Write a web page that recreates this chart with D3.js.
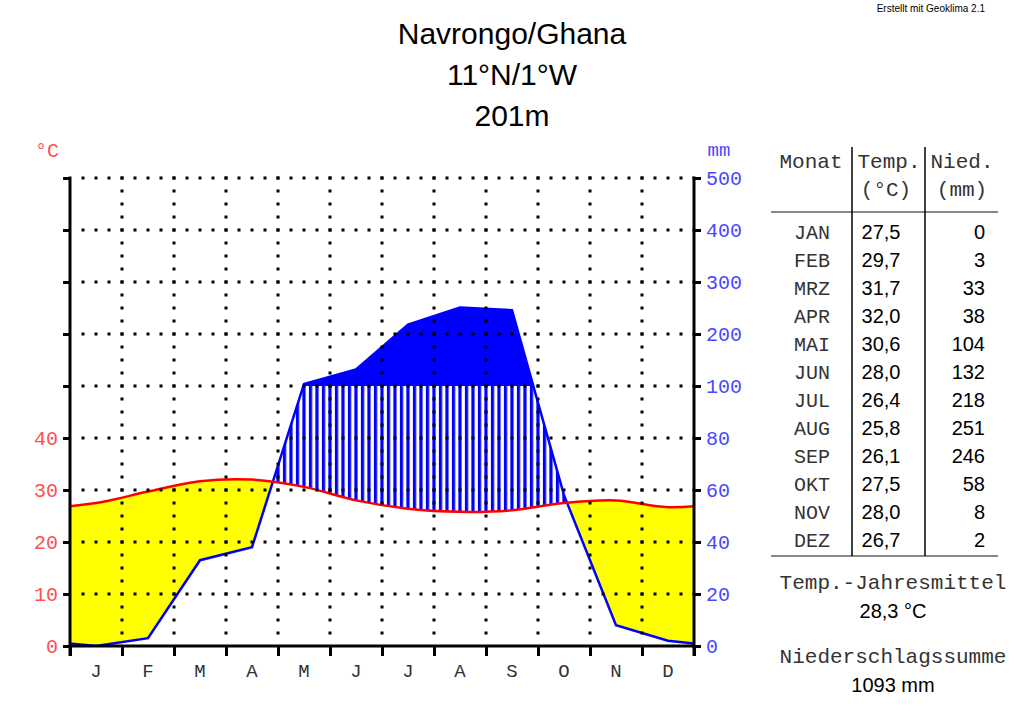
<!DOCTYPE html>
<html>
<head>
<meta charset="utf-8">
<script src="https://cdn.jsdelivr.net/npm/d3@7"></script>
<style>
    body { margin: 0; background: #fff; }
</style>
</head>
<body>
<div id="chart"></div>
<script>
// climate diagram (Walter-Lieth style) for Navrongo

const monthLetters = ['J', 'F', 'M', 'A', 'M', 'J', 'J', 'A', 'S', 'O', 'N', 'D'];
const monthNames = ['JAN', 'FEB', 'MRZ', 'APR', 'MAI', 'JUN', 'JUL', 'AUG', 'SEP', 'OKT', 'NOV', 'DEZ'];
const temps = [27.5, 29.7, 31.7, 32.0, 30.6, 28.0, 26.4, 25.8, 26.1, 27.5, 28.0, 26.7];
const precip = [0, 3, 33, 38, 104, 132, 218, 251, 246, 58, 8, 2];
const tempTicks = [0, 10, 20, 30, 40, 50, 60, 70, 80, 90];
const tempLabelMax = 40;
const precipTicks = [0, 20, 40, 60, 80, 100, 200, 300, 400, 500];
const titleLines = ['Navrongo/Ghana', '11°N/1°W', '201m'];

const width = 1024;
const height = 710;
const plot = { left: 70, right: 694, top: 178, bottom: 646 };

const mono = "'Liberation Mono', 'DejaVu Sans Mono', monospace";
const sans = "'Liberation Sans', Arial, sans-serif";
const RED = '#ff0000', BLUE = '#0000ff', YELLOW = '#ffff00';

let svg = d3.select('#chart')
    .append('svg')
    .attr('width', width)
    .attr('height', height)
    .style('background', '#fff');

// scales
let x = d3.scaleLinear().domain([0, 12]).range([plot.left, plot.right]);
let yT = d3.scaleLinear().domain([0, 90]).range([plot.bottom, plot.top]);
let yP = d3.scaleLinear().domain([0, 100, 500]).range([plot.bottom, yT(50), plot.top]);

// wrap the year around so lines run to the plot edges
let pts = d3.range(-2, 14).map(i => {
    let m = (i + 12) % 12;
    return { x: x(i + 0.5), t: temps[m], p: precip[m] };
});

let defs = svg.append('defs');

defs.append('clipPath').attr('id', 'plotClip')
    .append('rect')
    .attr('x', plot.left).attr('y', plot.top)
    .attr('width', plot.right - plot.left).attr('height', plot.bottom - plot.top);

defs.append('clipPath').attr('id', 'abovePrecip')
    .append('path')
    .attr('d', d3.area().x(d => d.x).y0(plot.top - 10).y1(d => yP(d.p))(pts));

defs.append('clipPath').attr('id', 'aboveTemp')
    .append('path')
    .attr('d', d3.area().x(d => d.x).y0(plot.top - 10).y1(d => yT(d.t)).curve(d3.curveCatmullRom)(pts));

defs.append('clipPath').attr('id', 'below100')
    .append('rect')
    .attr('x', plot.left).attr('y', yP(100))
    .attr('width', plot.right - plot.left).attr('height', plot.bottom - yP(100));

defs.append('clipPath').attr('id', 'above100')
    .append('rect')
    .attr('x', plot.left).attr('y', plot.top - 10)
    .attr('width', plot.right - plot.left).attr('height', yP(100) - plot.top + 10);

// vertical hatch for humid months
let step = (x(1) - x(0)) / 8;
let pattern = defs.append('pattern')
    .attr('id', 'hatch')
    .attr('patternUnits', 'userSpaceOnUse')
    .attr('x', plot.left - step / 4)
    .attr('y', 0)
    .attr('width', step)
    .attr('height', 10);
pattern.append('rect')
    .attr('x', 0).attr('y', 0)
    .attr('width', step / 2).attr('height', 10)
    .attr('fill', BLUE);

let plotG = svg.append('g').attr('clip-path', 'url(#plotClip)');

// arid season: temperature above precipitation
plotG.append('g')
    .attr('clip-path', 'url(#abovePrecip)')
    .append('path')
    .attr('d', d3.area().x(d => d.x).y0(plot.bottom).y1(d => yT(d.t)).curve(d3.curveCatmullRom)(pts))
    .attr('fill', YELLOW);

// humid season: hatched up to 100 mm
plotG.append('g')
    .attr('clip-path', 'url(#aboveTemp)')
    .append('g')
    .attr('clip-path', 'url(#below100)')
    .append('path')
    .attr('d', d3.area().x(d => d.x).y0(plot.bottom).y1(d => yP(d.p))(pts))
    .attr('fill', 'url(#hatch)');

// perhumid: solid above 100 mm
plotG.append('g')
    .attr('clip-path', 'url(#above100)')
    .append('path')
    .attr('d', d3.area().x(d => d.x).y0(plot.bottom).y1(d => yP(d.p))(pts))
    .attr('fill', BLUE);

// dotted grid
let dot = (x(1) - x(0)) / 4;
svg.append('g')
    .selectAll('line')
    .data(tempTicks.slice(1))
    .enter()
    .append('line')
    .attr('x1', plot.left + dot - 1.5)
    .attr('x2', plot.right)
    .attr('y1', d => yT(d))
    .attr('y2', d => yT(d))
    .attr('stroke', '#000')
    .attr('stroke-width', 3)
    .attr('stroke-dasharray', `3 ${dot - 3}`);

svg.append('g')
    .selectAll('line')
    .data(d3.range(1, 12))
    .enter()
    .append('line')
    .attr('x1', d => x(d))
    .attr('x2', d => x(d))
    .attr('y1', plot.bottom - dot + 1.5)
    .attr('y2', plot.top - 1.5)
    .attr('stroke', '#000')
    .attr('stroke-width', 3)
    .attr('stroke-dasharray', `3 ${dot - 3}`);

// lines
plotG.append('path')
    .attr('d', d3.line().x(d => d.x).y(d => yP(d.p))(pts))
    .attr('fill', 'none')
    .attr('stroke', BLUE)
    .attr('stroke-width', 2.5);

plotG.append('path')
    .attr('d', d3.line().x(d => d.x).y(d => yT(d.t)).curve(d3.curveCatmullRom)(pts))
    .attr('fill', 'none')
    .attr('stroke', RED)
    .attr('stroke-width', 2.5);

// axes
let leftAxis = svg.append('g')
    .attr('transform', `translate(${plot.left},0)`)
    .call(d3.axisLeft(yT).tickValues(tempTicks).tickSize(7).tickPadding(5)
        .tickFormat(d => d <= tempLabelMax ? d : ''));

let rightAxis = svg.append('g')
    .attr('transform', `translate(${plot.right},0)`)
    .call(d3.axisRight(yP).tickValues(precipTicks).tickSize(7).tickPadding(5));

let bottomAxis = svg.append('g')
    .attr('transform', `translate(0,${plot.bottom})`)
    .call(d3.axisBottom(x).tickValues(d3.range(13)).tickSize(10).tickFormat(''));

[leftAxis, rightAxis, bottomAxis].forEach(g => {
    g.select('.domain').remove();
    g.selectAll('.tick line').attr('stroke', '#000').attr('stroke-width', 3);
});

leftAxis.selectAll('text')
    .attr('fill', '#ff5050')
    .style('font-family', mono)
    .style('font-size', '20px');

rightAxis.selectAll('text')
    .attr('fill', '#4848ff')
    .style('font-family', mono)
    .style('font-size', '20px');

svg.append('line')
    .attr('x1', plot.left).attr('x2', plot.left)
    .attr('y1', plot.top - 1.5).attr('y2', plot.bottom + 10)
    .attr('stroke', '#000').attr('stroke-width', 3);
svg.append('line')
    .attr('x1', plot.right).attr('x2', plot.right)
    .attr('y1', plot.top - 1.5).attr('y2', plot.bottom + 10)
    .attr('stroke', '#000').attr('stroke-width', 3);
svg.append('line')
    .attr('x1', plot.left).attr('x2', plot.right)
    .attr('y1', plot.bottom).attr('y2', plot.bottom)
    .attr('stroke', '#000').attr('stroke-width', 3);

// month letters
svg.append('g')
    .selectAll('text')
    .data(monthLetters)
    .enter()
    .append('text')
    .attr('x', (d, i) => x(i + 0.5))
    .attr('y', 677)
    .attr('text-anchor', 'middle')
    .attr('fill', '#333')
    .style('font-family', mono)
    .style('font-size', '19px')
    .text(d => d);

// unit labels
svg.append('text')
    .attr('x', 47).attr('y', 157)
    .attr('text-anchor', 'middle')
    .attr('fill', '#ff5050')
    .style('font-family', mono)
    .style('font-size', '20px')
    .text('°C');

svg.append('text')
    .attr('x', 719).attr('y', 156)
    .attr('text-anchor', 'middle')
    .attr('fill', '#4848ff')
    .style('font-family', mono)
    .style('font-size', '19px')
    .text('mm');

// title
svg.append('g')
    .selectAll('text')
    .data(titleLines)
    .enter()
    .append('text')
    .attr('x', 512)
    .attr('y', (d, i) => 44 + i * 41)
    .attr('text-anchor', 'middle')
    .attr('fill', '#000')
    .style('font-family', sans)
    .style('font-size', '30px')
    .text(d => d);

svg.append('text')
    .attr('x', 985).attr('y', 12)
    .attr('text-anchor', 'end')
    .attr('fill', '#000')
    .style('font-family', sans)
    .style('font-size', '10px')
    .text('Erstellt mit Geoklima 2.1');

// table
let fmt = v => d3.format('.1f')(v).replace('.', ',');
let table = svg.append('g');
let rowY = i => 239 + i * 28;

table.append('line')
    .attr('x1', 771).attr('x2', 998).attr('y1', 212).attr('y2', 212)
    .attr('stroke', '#888').attr('stroke-width', 2);
table.append('line')
    .attr('x1', 771).attr('x2', 998).attr('y1', 556).attr('y2', 556)
    .attr('stroke', '#888').attr('stroke-width', 2);
[852, 925].forEach(xx => {
    table.append('line')
        .attr('x1', xx).attr('x2', xx).attr('y1', 147).attr('y2', 556)
        .attr('stroke', '#000').attr('stroke-width', 1.5);
});

let header = [
    { text: 'Monat', x: 811, y: 168 },
    { text: 'Temp.', x: 889, y: 168 },
    { text: 'Nied.', x: 962, y: 168 },
    { text: '(°C)', x: 886, y: 196 },
    { text: '(mm)', x: 962, y: 196 }
];
table.selectAll('text.head')
    .data(header)
    .enter()
    .append('text')
    .attr('class', 'head')
    .attr('x', d => d.x)
    .attr('y', d => d.y)
    .attr('text-anchor', 'middle')
    .attr('fill', '#333')
    .style('font-family', mono)
    .style('font-size', '21px')
    .text(d => d.text);

table.selectAll('text.mon')
    .data(monthNames)
    .enter()
    .append('text')
    .attr('class', 'mon')
    .attr('x', 812)
    .attr('y', (d, i) => rowY(i))
    .attr('text-anchor', 'middle')
    .attr('fill', '#333')
    .style('font-family', mono)
    .style('font-size', '20px')
    .text(d => d);

table.selectAll('text.temp')
    .data(temps)
    .enter()
    .append('text')
    .attr('class', 'temp')
    .attr('x', 881)
    .attr('y', (d, i) => rowY(i))
    .attr('text-anchor', 'middle')
    .attr('fill', '#000')
    .style('font-family', sans)
    .style('font-size', '20px')
    .text(d => fmt(d));

table.selectAll('text.prec')
    .data(precip)
    .enter()
    .append('text')
    .attr('class', 'prec')
    .attr('x', 985)
    .attr('y', (d, i) => rowY(i))
    .attr('text-anchor', 'end')
    .attr('fill', '#000')
    .style('font-family', sans)
    .style('font-size', '20px')
    .text(d => d);

// summary
let summary = [
    { text: 'Temp.-Jahresmittel', y: 589, font: mono, size: '21px', fill: '#333' },
    { text: fmt(d3.mean(temps)) + ' °C', y: 618, font: sans, size: '20px', fill: '#000' },
    { text: 'Niederschlagssumme', y: 663, font: mono, size: '21px', fill: '#333' },
    { text: d3.sum(precip) + ' mm', y: 692, font: sans, size: '20px', fill: '#000' }
];
svg.append('g')
    .selectAll('text')
    .data(summary)
    .enter()
    .append('text')
    .attr('x', 893)
    .attr('y', d => d.y)
    .attr('text-anchor', 'middle')
    .attr('fill', d => d.fill)
    .style('font-family', d => d.font)
    .style('font-size', d => d.size)
    .text(d => d.text);
</script>
</body>
</html>
